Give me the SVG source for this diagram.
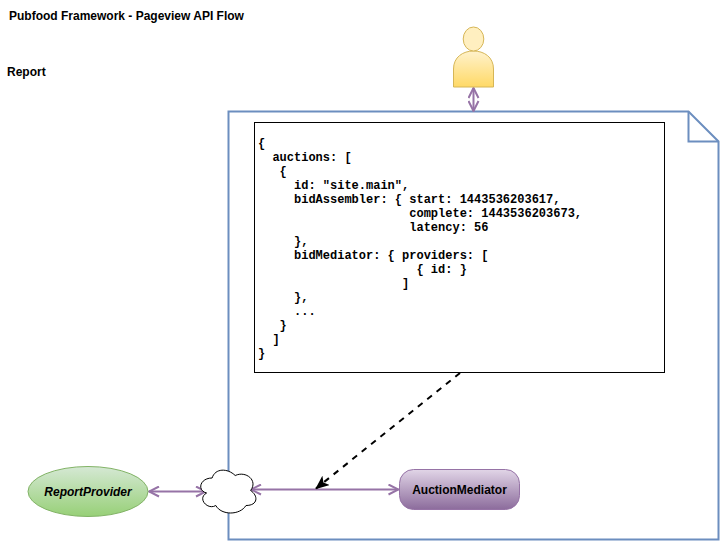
<svg xmlns="http://www.w3.org/2000/svg" width="721" height="542" viewBox="0 0 721 542">
<style>
.lbl{font-family:"Liberation Sans",Arial,sans-serif;font-weight:bold;font-size:12px;fill:#000}
.code{font-family:"Liberation Mono","Courier New",monospace;font-weight:bold;font-size:12px;fill:#000;white-space:pre}
.flow{fill:none;stroke:#9673a6;stroke-width:2}
</style>
<defs>
<linearGradient id="gy" x1="0" y1="0" x2="0" y2="1"><stop offset="0" stop-color="#fff2cc"/><stop offset="1" stop-color="#ffd966"/></linearGradient>
<linearGradient id="gg" x1="0" y1="0" x2="0" y2="1"><stop offset="0" stop-color="#d5e8d4"/><stop offset="1" stop-color="#97d077"/></linearGradient>
<linearGradient id="gp" x1="0" y1="0" x2="0" y2="1"><stop offset="0" stop-color="#e1d5e7"/><stop offset="1" stop-color="#8c6c9c"/></linearGradient>
<marker id="open" viewBox="0 0 12 12" refX="11" refY="6" markerWidth="12" markerHeight="12" markerUnits="userSpaceOnUse" orient="auto-start-reverse"><path d="M1 1 L11 6 L1 11" fill="none" stroke="#9673a6" stroke-width="2"/></marker>
<marker id="block" viewBox="0 0 14 12" refX="13" refY="6" markerWidth="14" markerHeight="12" markerUnits="userSpaceOnUse" orient="auto"><path d="M0 0 L14 6 L0 12 L3.5 6Z" fill="#000"/></marker>
</defs>
<text class="lbl" x="9" y="20">Pubfood Framework - Pageview API Flow</text>
<text class="lbl" x="7" y="76">Report</text>
<g id="page">
<path d="M228.500 111.500H688.500L718.500 141.500V539.500H228.500Z" fill="#fff" stroke="#6c8ebf" stroke-width="2"/>
<path d="M688.500 111.500V141.500H718.500" fill="none" stroke="#6c8ebf" stroke-width="2"/>
</g>
<g id="connectors">
<path class="flow" d="M473.500 88V111" marker-start="url(#open)" marker-end="url(#open)"/>
<path class="flow" d="M149 491.500H206" marker-start="url(#open)" marker-end="url(#open)"/>
<path class="flow" d="M251 489.500H398.500" marker-start="url(#open)" marker-end="url(#open)"/>
<path d="M460 373L316 488.500" fill="none" stroke="#000" stroke-width="2" stroke-dasharray="6 6" marker-end="url(#block)"/>
</g>
<g id="user">
<path d="M453.500 87V69C453.500 57 463 51 473.500 51C484 51 493.500 57 493.500 69V87Z" fill="url(#gy)" stroke="#d6b656"/>
<ellipse cx="473.500" cy="39" rx="10.300" ry="12" fill="#ffefc0" stroke="#d6b656"/>
</g>
<g id="json">
<rect x="254.500" y="122.500" width="410" height="250" fill="#fff" stroke="#000"/>
<text class="code" x="258" y="147">{</text>
<text class="code" x="258" y="161">  auctions: [</text>
<text class="code" x="258" y="175">   {</text>
<text class="code" x="258" y="189">     id: "site.main",</text>
<text class="code" x="258" y="203">     bidAssembler: { start: 1443536203617,</text>
<text class="code" x="258" y="217">                     complete: 1443536203673,</text>
<text class="code" x="258" y="231">                     latency: 56</text>
<text class="code" x="258" y="245">     },</text>
<text class="code" x="258" y="259">     bidMediator: { providers: [</text>
<text class="code" x="258" y="273">                      { id: }</text>
<text class="code" x="258" y="287">                    ]</text>
<text class="code" x="258" y="301">     },</text>
<text class="code" x="258" y="315">     ...</text>
<text class="code" x="258" y="329">   }</text>
<text class="code" x="258" y="343">  ]</text>
<text class="code" x="258" y="357">}</text>
</g>
<g id="reportprovider">
<ellipse cx="88" cy="491.500" rx="60" ry="25" fill="url(#gg)" stroke="#82b366"/>
<text class="lbl" x="88" y="496" text-anchor="middle" font-style="italic">ReportProvider</text>
</g>
<g id="cloud">
<path d="M212.100 478C199.800 478 196.700 490.500 206.600 493C196.700 498.500 207.800 510.500 215.800 505.500C221.300 515.500 239.800 515.500 246 505.500C258.300 505.500 258.300 495.500 250.600 490.500C258.300 480.500 246 470.500 235.200 475.500C227.500 468 215.200 468 212.100 478Z" fill="#fff" stroke="#000"/>
</g>
<g id="auctionmediator">
<rect x="399.500" y="469.500" width="120" height="40" rx="14" fill="url(#gp)" stroke="#9673a6"/>
<text class="lbl" x="459.500" y="494" text-anchor="middle">AuctionMediator</text>
</g>
</svg>
